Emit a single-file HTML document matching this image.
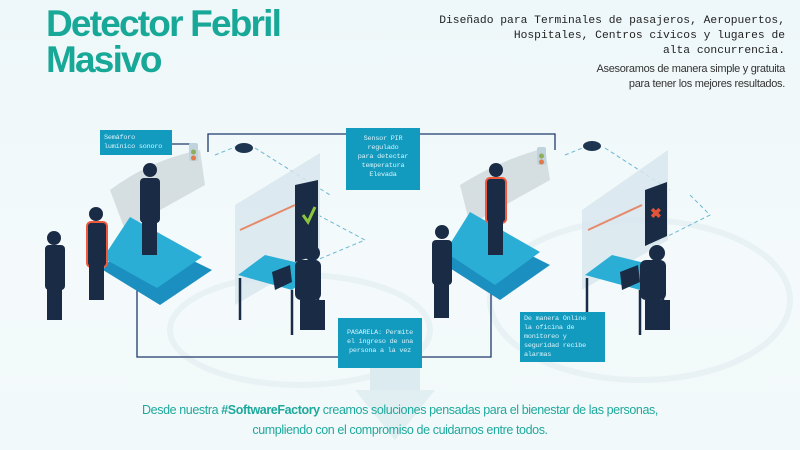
<!DOCTYPE html>
<html><head><meta charset="utf-8"><style>
body{margin:0;width:800px;height:450px;overflow:hidden;background:linear-gradient(180deg,#eef7f9 0%,#f4fafb 60%,#f2f9fa 100%);font-family:"Liberation Sans",sans-serif;position:relative}
.t{position:absolute;left:46px;top:6px;color:#18a898;font-weight:bold;font-size:37px;line-height:36px;letter-spacing:-1.8px}
.m{position:absolute;right:15px;text-align:right;font-family:"Liberation Mono",monospace;font-size:11.3px;color:#222;line-height:15px}
.s{position:absolute;right:15px;text-align:right;font-size:11px;color:#333;line-height:15px;letter-spacing:-0.3px}
.b{position:absolute;background:#139bbf;color:#d9f3fb;font-family:"Liberation Mono",monospace;font-size:6.8px;letter-spacing:-0.2px;white-space:nowrap;line-height:9px;padding:3px 4px;box-sizing:border-box}
.bt{position:absolute;left:0;width:800px;text-align:center;color:#1ea99d;font-size:12.5px;letter-spacing:-0.4px;line-height:20px}
</style></head><body>
<div class="t">Detector Febril<br>Masivo</div>
<div class="m" style="top:14px">Diseñado para Terminales de pasajeros, Aeropuertos,<br>Hospitales, Centros cívicos y lugares de<br>alta concurrencia.</div>
<div class="s" style="top:62px">Asesoramos de manera simple y gratuita<br>para tener los mejores resultados.</div>
<svg width="800" height="450" style="position:absolute;left:0;top:0">
<ellipse cx="300" cy="330" rx="130" ry="55" fill="none" stroke="#e8f2f5" stroke-width="6"/>
<ellipse cx="640" cy="300" rx="150" ry="80" fill="none" stroke="#e8f2f5" stroke-width="6"/>
<rect x="370" y="360" width="50" height="30" fill="#dcebf0"/>
<polygon points="355,390 435,390 395,440" fill="#e1eef2"/>
<polyline points="208,152 208,134 346,134" fill="none" stroke="#1f3a6b" stroke-width="1.3"/>
<polyline points="420,134 555,134 555,150" fill="none" stroke="#1f3a6b" stroke-width="1.3"/>
<polyline points="137,268 137,357 338,357" fill="none" stroke="#1f3a6b" stroke-width="1.3"/>
<polyline points="422,357 491,357 491,272" fill="none" stroke="#1f3a6b" stroke-width="1.3"/>
<line x1="172" y1="144" x2="190" y2="144" stroke="#1f3a6b" stroke-width="1.3"/>
<g stroke="#6cb8d4" stroke-dasharray="4 3" fill="none"><polyline points="215,155 240,145"/><polyline points="255,148 330,195"/><polyline points="318,215 365,240 305,265"/><polyline points="565,155 590,145"/><polyline points="605,148 670,190"/><polyline points="690,195 710,215 650,245"/></g>
<ellipse cx="244" cy="148" rx="9" ry="5" fill="#1d3550"/><ellipse cx="592" cy="146" rx="9" ry="5" fill="#1d3550"/>
<path d="M110,190 Q150,160 200,150 L205,185 Q160,210 125,230 Z" fill="#c9d3d6" opacity="0.7"/>
<path d="M460,185 Q500,160 545,148 L550,180 Q505,205 470,225 Z" fill="#c9d3d6" opacity="0.7"/>
<rect x="189" y="143" width="9" height="18" rx="2" fill="#bfd4dc"/><circle cx="193.5" cy="152" r="2.5" fill="#8fae5c"/><circle cx="193.5" cy="158" r="2.5" fill="#e07a4a"/>
<rect x="537" y="147" width="9" height="18" rx="2" fill="#bfd4dc"/><circle cx="541.5" cy="156" r="2.5" fill="#8fae5c"/><circle cx="541.5" cy="162" r="2.5" fill="#e07a4a"/>
<polygon points="103,270 130,230 212,270 160,305" fill="#1b8fbf"/>
<polygon points="103,258 130,217 202,257 157,288" fill="#2aaed6"/>
<polygon points="445,265 470,225 550,265 500,300" fill="#1b8fbf"/>
<polygon points="445,252 470,212 540,252 495,285" fill="#2aaed6"/>
<polygon points="235,205 320,153 320,255 235,305" fill="#d8e6ed" opacity="0.85"/>
<polygon points="295,185 318,180 318,255 295,262" fill="#1a2c45"/>
<polyline points="303,215 308,222 315,207" stroke="#8bc53f" stroke-width="3" fill="none"/>
<line x1="240" y1="230" x2="295" y2="205" stroke="#e58a6a" stroke-width="2"/>
<polygon points="582,210 668,150 668,240 582,290" fill="#d8e6ed" opacity="0.85"/>
<polygon points="645,190 667,182 667,236 645,246" fill="#1a2c45"/>
<text x="650" y="218" fill="#e0553a" font-size="14" font-weight="bold">✖</text>
<line x1="588" y1="230" x2="642" y2="205" stroke="#e58a6a" stroke-width="2"/>
<polygon points="238,275 265,255 320,268 292,290" fill="#2aaed6"/>
<g stroke="#1a2c45" stroke-width="2.5"><line x1="240" y1="278" x2="240" y2="320"/><line x1="292" y1="290" x2="292" y2="335"/><line x1="318" y1="270" x2="318" y2="305"/></g>
<polygon points="585,275 612,255 665,268 640,290" fill="#2aaed6"/>
<g stroke="#1a2c45" stroke-width="2.5"><line x1="587" y1="278" x2="587" y2="320"/><line x1="640" y1="290" x2="640" y2="335"/><line x1="663" y1="270" x2="663" y2="305"/></g>
<g fill="#1a2c45">
<rect x="45" y="245" width="20" height="45" rx="4"/><rect x="47" y="288" width="15" height="32"/><circle cx="54" cy="238" r="7"/>
<rect x="87" y="222" width="20" height="45" rx="4" stroke="#f05a3c" stroke-width="2"/><rect x="89" y="265" width="15" height="35"/><circle cx="96" cy="214" r="7"/>
<rect x="140" y="178" width="20" height="45" rx="4"/><rect x="142" y="220" width="15" height="35"/><circle cx="150" cy="170" r="7"/>
<rect x="432" y="240" width="20" height="45" rx="4"/><rect x="434" y="283" width="15" height="35"/><circle cx="442" cy="232" r="7"/>
<rect x="486" y="178" width="20" height="45" rx="4" stroke="#f05a3c" stroke-width="2"/><rect x="488" y="220" width="15" height="35"/><circle cx="496" cy="170" r="7"/>
<rect x="295" y="260" width="26" height="40" rx="6"/><circle cx="312" cy="253" r="8"/><rect x="300" y="300" width="25" height="30"/>
<rect x="640" y="260" width="26" height="40" rx="6"/><circle cx="657" cy="253" r="8"/><rect x="645" y="300" width="25" height="30"/>
<polygon points="272,272 290,265 292,282 275,290"/><polygon points="620,272 638,265 640,282 622,290"/>
</g>
</svg>
<div class="b" style="left:100px;top:130px;width:72px;height:25px;padding-top:4px">Semáforo<br>lumínico sonoro</div>
<div class="b" style="left:346px;top:128px;width:74px;height:62px;text-align:center;padding-top:7px">Sensor PIR<br>regulado<br>para detectar<br>temperatura<br>Elevada</div>
<div class="b" style="left:338px;top:318px;width:84px;height:50px;padding-top:11px;text-align:center">PASARELA: Permite<br>el ingreso de una<br>persona a la vez</div>
<div class="b" style="left:520px;top:312px;width:85px;height:50px;padding-top:3px">De manera Online<br>la oficina de<br>monitoreo y<br>seguridad recibe<br>alarmas</div>
<div class="bt" style="top:400px">Desde nuestra <b>#SoftwareFactory</b> creamos soluciones pensadas para el bienestar de las personas,<br>cumpliendo con el compromiso de cuidarnos entre todos.</div>
</body></html>
